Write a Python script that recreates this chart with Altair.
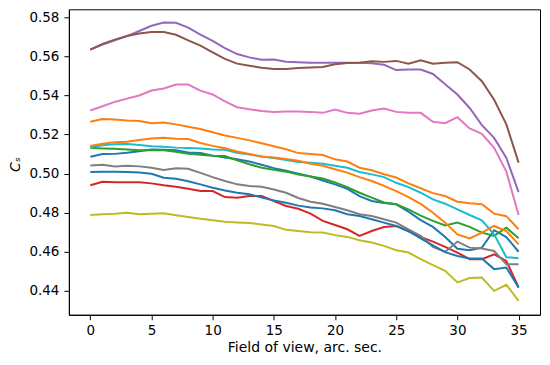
import altair as alt
import pandas as pd

XS = list(range(36))

blue1 = [0.5086,0.5100,0.5101,0.5107,0.5115,0.5123,0.5122,0.5119,0.5108,0.5106,0.5092,0.5082,0.5074,0.5062,0.5045,0.5028,0.5015,0.5000,0.4985,0.4965,0.4945,0.4922,0.4885,0.4860,0.4849,0.4843,0.4805,0.4762,0.4727,0.4675,0.4615,0.4608,0.4621,0.4710,0.4675,0.4600]
orange_top = [0.5265,0.5280,0.5277,0.5272,0.5269,0.5258,0.5262,0.5252,0.5240,0.5228,0.5212,0.5195,0.5183,0.5170,0.5155,0.5140,0.5125,0.5105,0.5100,0.5095,0.5073,0.5062,0.5030,0.5017,0.4997,0.4980,0.4950,0.4925,0.4900,0.4885,0.4856,0.4848,0.4843,0.4795,0.4782,0.4715]
green = [0.5132,0.5129,0.5127,0.5124,0.5120,0.5119,0.5120,0.5112,0.5102,0.5097,0.5092,0.5090,0.5068,0.5048,0.5030,0.5020,0.5010,0.4995,0.4985,0.4975,0.4955,0.4930,0.4902,0.4877,0.4852,0.4843,0.4817,0.4785,0.4758,0.4735,0.4749,0.4727,0.4698,0.4681,0.4723,0.4669]
red = [0.4940,0.4958,0.4956,0.4956,0.4956,0.4950,0.4940,0.4933,0.4923,0.4911,0.4911,0.4880,0.4877,0.4885,0.4885,0.4860,0.4834,0.4820,0.4795,0.4758,0.4737,0.4715,0.4681,0.4706,0.4727,0.4732,0.4706,0.4676,0.4652,0.4625,0.4596,0.4562,0.4562,0.4587,0.4553,0.4417]
purple = [0.5635,0.5660,0.5682,0.5704,0.5730,0.5757,0.5774,0.5772,0.5747,0.5712,0.5680,0.5642,0.5612,0.5595,0.5583,0.5584,0.5573,0.5570,0.5568,0.5567,0.5567,0.5567,0.5567,0.5565,0.5557,0.5530,0.5533,0.5533,0.5510,0.5457,0.5405,0.5336,0.5248,0.5183,0.5080,0.4905]
brown = [0.5635,0.5664,0.5686,0.5704,0.5717,0.5725,0.5725,0.5711,0.5682,0.5655,0.5621,0.5587,0.5563,0.5552,0.5542,0.5535,0.5535,0.5541,0.5543,0.5546,0.5560,0.5566,0.5568,0.5575,0.5572,0.5577,0.5563,0.5580,0.5563,0.5568,0.5570,0.5533,0.5473,0.5378,0.5252,0.5056]
pink = [0.5323,0.5345,0.5367,0.5384,0.5400,0.5425,0.5436,0.5456,0.5456,0.5425,0.5405,0.5370,0.5340,0.5330,0.5320,0.5316,0.5318,0.5318,0.5316,0.5311,0.5328,0.5311,0.5307,0.5323,0.5333,0.5316,0.5311,0.5311,0.5265,0.5258,0.5289,0.5231,0.5204,0.5132,0.5010,0.4788]
gray = [0.5042,0.5045,0.5037,0.5040,0.5037,0.5030,0.5018,0.5027,0.5025,0.5004,0.4982,0.4962,0.4945,0.4936,0.4933,0.4919,0.4902,0.4875,0.4856,0.4846,0.4829,0.4812,0.4792,0.4783,0.4766,0.4749,0.4715,0.4681,0.4625,0.4599,0.4652,0.4621,0.4616,0.4604,0.4536,0.4536]
olive = [0.4788,0.4792,0.4795,0.4800,0.4792,0.4795,0.4797,0.4787,0.4778,0.4769,0.4761,0.4754,0.4750,0.4747,0.4740,0.4732,0.4712,0.4706,0.4700,0.4698,0.4685,0.4676,0.4659,0.4647,0.4630,0.4608,0.4596,0.4562,0.4531,0.4502,0.4443,0.4465,0.4468,0.4400,0.4431,0.4349]
cyan = [0.5135,0.5145,0.5150,0.5152,0.5146,0.5140,0.5137,0.5133,0.5131,0.5128,0.5124,0.5122,0.5107,0.5098,0.5088,0.5080,0.5070,0.5060,0.5055,0.5050,0.5040,0.5030,0.5008,0.4996,0.4982,0.4953,0.4931,0.4902,0.4868,0.4846,0.4817,0.4788,0.4761,0.4689,0.4572,0.4567]
blue2 = [0.5008,0.5009,0.5009,0.5008,0.5006,0.4999,0.4979,0.4974,0.4961,0.4945,0.4928,0.4914,0.4902,0.4894,0.4878,0.4863,0.4851,0.4836,0.4826,0.4822,0.4812,0.4792,0.4783,0.4766,0.4749,0.4732,0.4705,0.4668,0.4633,0.4598,0.4578,0.4565,0.4565,0.4511,0.4519,0.4417]
orange2 = [0.5141,0.5153,0.5160,0.5163,0.5172,0.5180,0.5184,0.5178,0.5177,0.5157,0.5142,0.5130,0.5113,0.5100,0.5088,0.5082,0.5075,0.5066,0.5050,0.5040,0.5022,0.5005,0.4982,0.4962,0.4937,0.4910,0.4880,0.4845,0.4800,0.4749,0.4689,0.4668,0.4698,0.4732,0.4706,0.4638]

NAMES = ["s00", "s01", "s02", "s03", "s04", "s05", "s06", "s07", "s08", "s09", "s10", "s11"]
SERIES = [blue1, orange_top, green, red, purple, brown, pink, gray, olive, cyan, blue2, orange2]
COLORS = ["#1f77b4", "#ff7f0e", "#2ca02c", "#d62728", "#9467bd", "#8c564b",
          "#e377c2", "#7f7f7f", "#bcbd22", "#17becf", "#1f77b4", "#ff7f0e"]
X_TICKS = [0, 5, 10, 15, 20, 25, 30, 35]
Y_TICKS = [0.44, 0.46, 0.48, 0.50, 0.52, 0.54, 0.56, 0.58]

rows = []
for i, (name, vals) in enumerate(zip(NAMES, SERIES)):
    for x, v in zip(XS, vals):
        rows.append({"s": name, "x": x, "v": v, "o": i})
df = pd.DataFrame(rows)

FONT = "DejaVu Sans"

chart = alt.Chart(df).mark_line(strokeWidth=2, clip=True).encode(
    x=alt.X("x:Q",
            scale=alt.Scale(domain=[-1.75, 36.75], nice=False, zero=False),
            axis=alt.Axis(values=X_TICKS, title="Field of view, arc. sec.", grid=False,
                          format="d", labelPadding=4, titlePadding=3)),
    y=alt.Y("v:Q",
            scale=alt.Scale(domain=[0.42774, 0.5841], nice=False, zero=False),
            axis=alt.Axis(values=Y_TICKS, title="Cₛ", grid=False, format=".2f",
                          labelPadding=5, titleFontStyle="italic",
                          titleX=-53, titleY=155, titleAngle=270,
                          titleAlign="center", titleBaseline="middle")),
    color=alt.Color("s:N", scale=alt.Scale(domain=NAMES, range=COLORS), legend=None),
    order=alt.Order("o:Q"),
).properties(
    width=472, height=306,
    autosize=alt.AutoSizeParams(type="none"),
    padding={"left": 61, "top": 1, "right": 2, "bottom": 45},
).configure_view(
    stroke="black", strokeWidth=1
).configure_axis(
    labelFont=FONT, titleFont=FONT, labelFontSize=13.5, titleFontSize=14,
    labelColor="black", titleColor="black", titleFontWeight="normal",
    domainColor="black", tickColor="black", tickSize=5, tickWidth=1, domainWidth=1,
)

chart.save("out.html", embed_options={"renderer": "svg", "actions": False})
